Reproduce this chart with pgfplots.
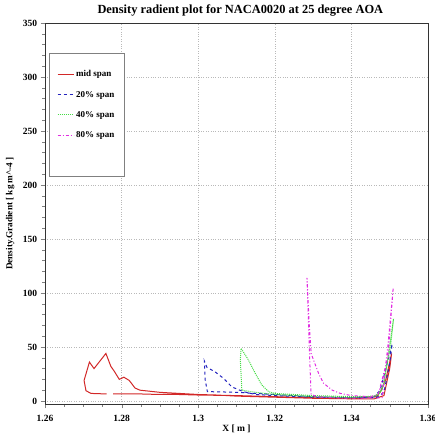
\documentclass[border=0pt]{standalone}
\usepackage{pgfplots}
\pgfplotsset{compat=1.18}
\usepackage{fontspec}
\setmainfont{Liberation Serif}
\definecolor{cred}{RGB}{210,40,40}
\definecolor{cblue}{RGB}{35,35,190}
\definecolor{cgreen}{RGB}{70,220,70}
\definecolor{cmag}{RGB}{225,45,225}
\begin{document}
\begin{tikzpicture}
\begin{axis}[
  scale only axis, width=383pt, height=381pt,
  xmin=1.26, xmax=1.36, ymin=-2.8, ymax=350,
  xtick={1.26,1.28,1.3,1.32,1.34,1.36},
  xticklabels={1.26,1.28,1.3,1.32,1.34,1.36},
  ytick={0,50,100,150,200,250,300,350},
  minor x tick num=3, minor y tick num=4,
  grid=major, major grid style={dotted, gray!55},
  axis line style={black!80},
  /pgf/number format/assume math mode=true,
  ticklabel style={font=\fontsize{9.5}{11}\selectfont\bfseries},
  xticklabel style={yshift=-3pt},
  title={Density radient plot for NACA0020 at 25 degree AOA},
  title style={font=\fontsize{12.4}{14}\selectfont\bfseries, at={(axis description cs:0.51,1.034)}, anchor=center, yshift=0pt},
  every axis title shift=0pt,
  xlabel={X [ m ]}, xlabel style={font=\fontsize{9.5}{11}\selectfont\bfseries, at={(axis description cs:0.5,-0.066)}, anchor=center},
  ylabel={Density.Gradient [ kg m\^{}-4 ]}, ylabel style={font=\fontsize{9.2}{11}\selectfont\bfseries, at={(axis description cs:-0.091,0.5)}, anchor=center},
  tick align=outside, tick pos=left,
  unbounded coords=jump,
  legend style={at={(axis description cs:0.0104,0.921)}, anchor=north west, font=\fontsize{9}{10}\selectfont\bfseries, draw=gray, inner xsep=8pt, inner ysep=15pt, row sep=8.3pt, nodes={text height=6.5pt, text depth=1.5pt}},
  legend cell align=left,
  legend image code/.code={\draw[#1] (0pt,0pt) -- (16pt,0pt);},
]
\addplot[cred, line width=1pt] coordinates {(1.3505,44)(1.3490,20)(1.3475,8)(1.3465,4)(1.340,2.5)(1.330,3)(1.320,4)(1.310,5)(1.300,5.5)(1.295,6)(1.290,6)(1.285,6.5)(1.2778,6.5)(1.277,nan)(1.2761,6.5)(1.272,7)(1.2707,9.5)(1.2702,19)(1.2716,36)(1.2728,30)(1.2759,44)(1.2772,32)(1.2780,28)(1.2794,20)(1.2806,22)(1.2820,19)(1.2835,12)(1.2848,10)(1.290,8)(1.295,7)(1.300,6)(1.305,5.5)(1.310,4.5)(1.320,3.5)(1.330,2.5)(1.340,2)(1.346,2)(1.3485,5)(1.3500,30)(1.3505,44)};
\addlegendentry{mid span}
\addplot[cblue, line width=1pt, dashed] coordinates {(1.3506,52)(1.3490,30)(1.3475,10)(1.346,4)(1.340,3)(1.330,4)(1.320,6)(1.310,8)(1.305,8.5)(1.3024,8.6)(1.3018,20)(1.3016,37)(1.3023,31)(1.3044,27)(1.3066,21)(1.3088,13)(1.3118,8.6)(1.315,6)(1.320,5)(1.330,3.5)(1.340,3)(1.3465,3)(1.3485,8)(1.350,35)(1.3506,52)};
\addlegendentry{20\% span}
\addplot[cgreen, line width=1pt, densely dotted] coordinates {(1.3510,76)(1.3495,40)(1.3485,15)(1.347,5)(1.340,3)(1.330,4)(1.320,6)(1.315,8)(1.3114,10)(1.3110,38)(1.3112,48.8)(1.3131,38)(1.3149,25.6)(1.3166,14.8)(1.3184,8.6)(1.320,7)(1.325,6)(1.330,5)(1.340,4)(1.346,4)(1.348,10)(1.3502,50)(1.3510,76)};
\addlegendentry{40\% span}
\addplot[cmag, line width=1pt, dashdotted] coordinates {(1.3509,104)(1.3495,50)(1.3485,20)(1.348,3)(1.340,2.5)(1.335,3)(1.331,4)(1.3295,6)(1.3294,12)(1.3290,50)(1.3284,114)(1.3290,70)(1.3295,44)(1.3301,38)(1.3315,25)(1.3327,16.5)(1.335,10)(1.3371,7)(1.340,5)(1.345,4)(1.347,6)(1.3495,40)(1.3509,104)};
\addlegendentry{80\% span}
\addlegendimage{empty legend}\addlegendentry{}
\end{axis}
\pgfresetboundingbox
\path (-45pt,-35pt) rectangle (390pt,404pt);
\end{tikzpicture}
\end{document}
